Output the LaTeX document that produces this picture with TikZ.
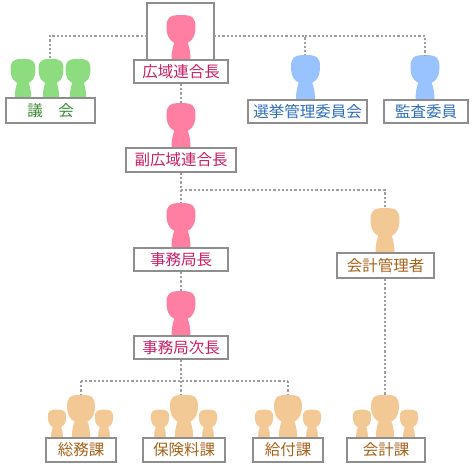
\documentclass[tikz,border=0pt]{standalone}
\usepackage{fontspec}
\newfontfamily\cjk{Noto Sans CJK JP}
\definecolor{pinkfill}{HTML}{FF7FA3}
\definecolor{greenfill}{HTML}{8EDC80}
\definecolor{bluefill}{HTML}{99C3FF}
\definecolor{orangefill}{HTML}{F2C995}
\definecolor{pinktext}{HTML}{C91F66}
\definecolor{greentext}{HTML}{3E8A3A}
\definecolor{bluetext}{HTML}{2F6DB8}
\definecolor{browntext}{HTML}{A8621C}
\definecolor{framegray}{HTML}{8E8E8E}
\definecolor{linkgray}{HTML}{9E9E9E}
\tikzset{
  lbl/.style={draw=framegray,line width=2pt,fill=white,inner sep=0pt,font=\cjk\fontsize{15.5}{15.5}\selectfont},
  link/.style={draw=linkgray,line width=2pt,dash pattern=on 2.2pt off 2pt},
  person/.pic={
    \fill[pic actions] (-9.5,0) .. controls (-9.5,-6) and (-9,-11) .. (-6.5,-18) -- (6.5,-18) .. controls (9,-11) and (9.5,-6) .. (9.5,0) -- cycle;
    \fill[pic actions] (0,-45) .. controls (12,-45) and (14.5,-42) .. (14.5,-33) .. controls (14.5,-24) and (11,-16) .. (0,-16) .. controls (-11,-16) and (-14.5,-24) .. (-14.5,-33) .. controls (-14.5,-42) and (-12,-45) .. (0,-45) -- cycle;
    \coordinate (-top) at (0,-45);
  }
}
\begin{document}
\begin{tikzpicture}[x=1pt,y=-1pt]
\useasboundingbox[fill=white] (0,0) rectangle (472,469);
% frame round the chief
\node[lbl,minimum width=67pt,minimum height=57pt] (frame) at (180.5,31.5) {};
% people
\pic[fill=pinkfill] (pA) at (181,60) {person};
\pic[fill=pinkfill] (pB) at (181,148) {person};
\pic[fill=pinkfill] (pC) at (181,248) {person};
\pic[fill=pinkfill] (pD) at (181,336) {person};
\pic[fill=greenfill,xscale=.86,yscale=.87] (gA) at (23,98) {person};
\pic[fill=greenfill,xscale=.86,yscale=.87] (gB) at (51,98) {person};
\pic[fill=greenfill,xscale=.86,yscale=.87] (gC) at (78,98) {person};
\pic[fill=bluefill] (bA) at (305.5,100) {person};
\pic[fill=bluefill] (bB) at (425,100) {person};
\pic[fill=orangefill] (oA) at (385,253) {person};
\pic[fill=orangefill,scale=.63] (s1) at (57,438) {person};
\pic[fill=orangefill,scale=.63] (s2) at (104,438) {person};
\pic[fill=orangefill,scale=.96] (c1) at (81,438) {person};
\pic[fill=orangefill,scale=.63] (s3) at (160,438) {person};
\pic[fill=orangefill,scale=.63] (s4) at (208,438) {person};
\pic[fill=orangefill,scale=.96] (c2) at (184,438) {person};
\pic[fill=orangefill,scale=.63] (s5) at (264,438) {person};
\pic[fill=orangefill,scale=.63] (s6) at (312,438) {person};
\pic[fill=orangefill,scale=.96] (c3) at (288,438) {person};
\pic[fill=orangefill,scale=.63] (s7) at (362,438) {person};
\pic[fill=orangefill,scale=.63] (s8) at (409,438) {person};
\pic[fill=orangefill,scale=.96] (c4) at (385,438) {person};
% label boxes
\node[lbl,minimum width=94pt,minimum height=23pt,text=pinktext] (chief) at (181,71.5) {広域連合長};
\node[lbl,minimum width=110pt,minimum height=24pt,text=pinktext] (vice) at (181,160) {副広域連合長};
\node[lbl,minimum width=94pt,minimum height=23pt,text=pinktext] (head) at (181,259.5) {事務局長};
\node[lbl,minimum width=94pt,minimum height=23pt,text=pinktext] (sub) at (181,347.5) {事務局次長};
\node[lbl,minimum width=89pt,minimum height=25pt,text=greentext] (council) at (50.5,110.5) {議\hspace{1em}会};
\node[lbl,minimum width=119pt,minimum height=23pt,text=bluetext] (elect) at (307.5,111.5) {選挙管理委員会};
\node[lbl,minimum width=84pt,minimum height=23pt,text=bluetext] (audit) at (426,111.5) {監査委員};
\node[lbl,minimum width=97pt,minimum height=25pt,text=browntext] (acct) at (385.5,265.5) {会計管理者};
\node[lbl,minimum width=70pt,minimum height=24pt,text=browntext] (soumu) at (81,450) {総務課};
\node[lbl,minimum width=82pt,minimum height=24pt,text=browntext] (hoken) at (184,450) {保険料課};
\node[lbl,minimum width=70pt,minimum height=24pt,text=browntext] (kyufu) at (288,450) {給付課};
\node[lbl,minimum width=78pt,minimum height=24pt,text=browntext] (kaikei) at (386,450) {会計課};
% junctions
\coordinate (topL) at (49.5,36);
\coordinate (topM) at (305,36);
\coordinate (topR) at (425,36);
\coordinate (midJ) at (181,190);
\coordinate (midR) at (384.5,190);
\coordinate (lowJ) at (181,381);
\coordinate (lowL) at (81,381);
\coordinate (lowR) at (288,381);
\coordinate (frameW) at (147,36);
\coordinate (frameE) at (214,36);
\coordinate (lowC) at (181,395);
% connectors
\draw[link] (frameW) -- (topL) -- (topL |- gB-top);
\draw[link] (frameE) -- (topM) -- (topM |- bA-top);
\draw[link] (topM) -- (topR) -- (bB-top);
\draw[link] (chief.south) -- (pB-top);
\draw[link] (vice.south) -- (midJ) -- (pC-top);
\draw[link] (midJ) -- (midR) -- (midR |- oA-top);
\draw[link] (head.south) -- (pD-top);
\draw[link] (sub.south) -- (lowJ) -- (lowC);
\draw[link] (lowL) -- (lowR);
\draw[link] (lowL) -- (c1-top);
\draw[link] (lowR) -- (c3-top);
\draw[link] (midR |- acct.south) -- (midR |- c4-top);
\end{tikzpicture}
\end{document}
